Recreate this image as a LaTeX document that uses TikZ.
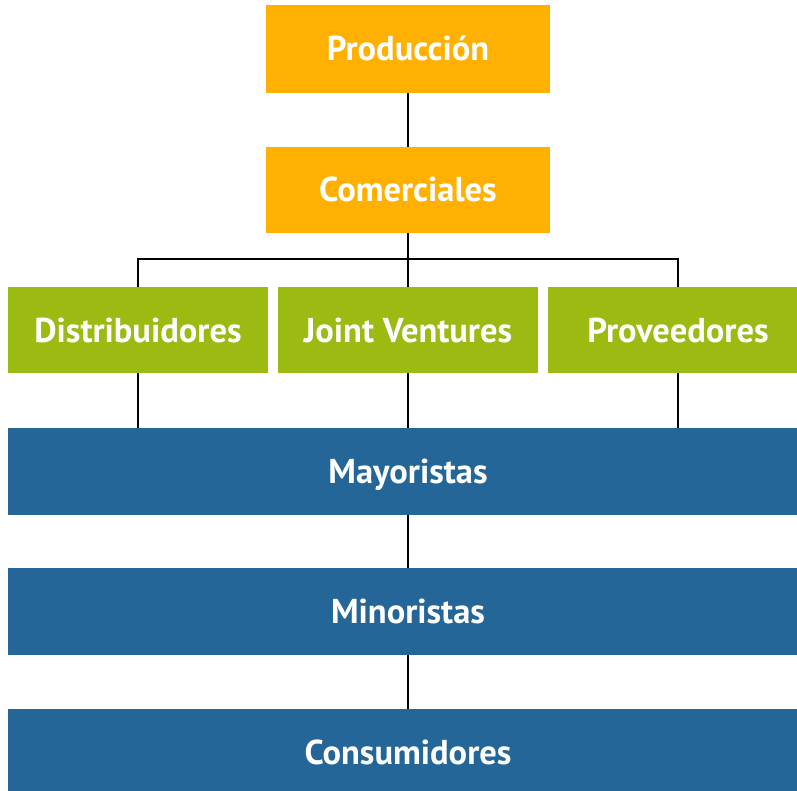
\documentclass[tikz,border=0pt]{standalone}
\usepackage{fontspec}
\setmainfont{PT Sans}
\definecolor{orangebox}{RGB}{255,176,0}
\definecolor{greenbox}{RGB}{155,186,18}
\definecolor{bluebox}{RGB}{37,102,152}
\begin{document}
\begin{tikzpicture}[x=1pt,y=-1pt,
  box/.style={inner sep=0pt, outer sep=0pt, text=white, text height=24pt, text depth=0pt, font=\fontsize{34.5}{38}\selectfont\bfseries},
  obox/.style={box, fill=orangebox, minimum width=284pt},
  gbox/.style={box, fill=greenbox, minimum width=260pt, minimum height=86pt},
  bbox/.style={box, fill=bluebox, minimum width=800pt, minimum height=87pt},
  link/.style={draw=black, line width=2pt}]
\useasboundingbox (0,0) rectangle (797,791);
\begin{scope}
\clip (0,0) rectangle (797,791);
\node[obox, minimum height=88pt] (prod) at (408,49) {Producción};
\node[obox, minimum height=86pt] (com) at (408,190) {Comerciales};
\node[gbox] (dist) at (138,330) {Distribuidores};
\node[gbox] (joint) at (408,330) {Joint Ventures};
\node[gbox] (prov) at (678,330) {Proveedores};
\node[bbox] (may) at (408,471) {Mayoristas};
\node[bbox] (min) at (408,611) {Minoristas};
\node[bbox] (cons) at (408,752) {Consumidores};
\coordinate (split) at (408,259);
\draw[link] (prod.south) -- (com.north);
\draw[link] (com.south) -- (split);
\draw[link] (dist.north) |- (split) -| (prov.north);
\draw[link] (split) -- (joint.north);
\draw[link] (dist.south) -- (dist.south |- may.north);
\draw[link] (joint.south) -- (may.north);
\draw[link] (prov.south) -- (prov.south |- may.north);
\draw[link] (may.south) -- (min.north);
\draw[link] (min.south) -- (cons.north);
\end{scope}
\end{tikzpicture}
\end{document}
